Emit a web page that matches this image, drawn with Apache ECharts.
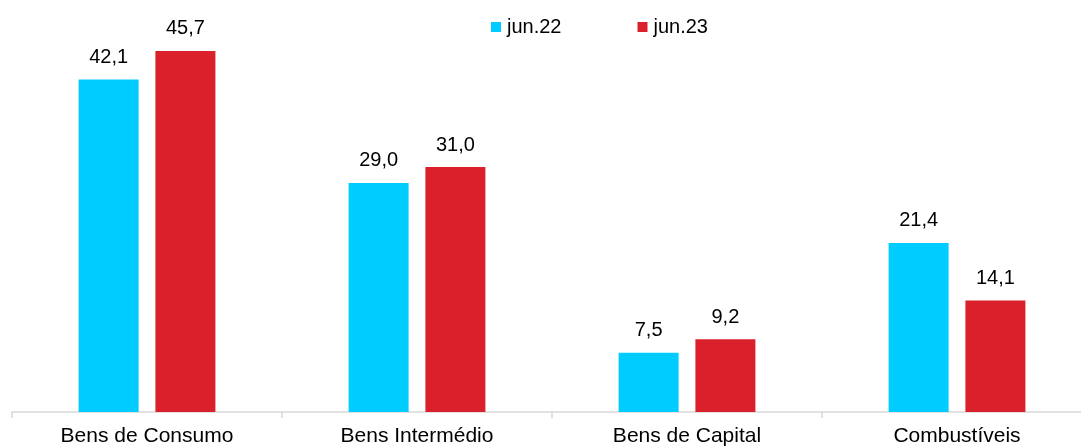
<!DOCTYPE html>
<html>
<head>
<meta charset="utf-8">
<script src="https://cdn.jsdelivr.net/npm/echarts@6/dist/echarts.min.js"></script>
<style>
  html, body { margin: 0; padding: 0; background: #fff; overflow: hidden; }
  #chart { width: 1092px; height: 448px; }
</style>
</head>
<body>
<div id="chart"></div>
<script>
// categories and values
const categories = ["Bens de Consumo", "Bens Intermédio", "Bens de Capital", "Combustíveis"];
const jun22 = [42.1, 29.0, 7.5, 21.4];
const jun23 = [45.7, 31.0, 9.2, 14.1];
const seriesNames = ["jun.22", "jun.23"];

const font = "Arial, 'Liberation Sans', sans-serif";
// the plot runs a little past the right edge of the window, so the chart div is wider than the page
const chart = echarts.init(document.getElementById("chart"), null, { renderer: "canvas" });

const fmt = (p) => p.value.toFixed(1).replace(".", ",");

const labelStyle = {
  show: true,
  position: "top",
  distance: 12,
  color: "#000",
  fontSize: 20,
  fontFamily: font,
  formatter: fmt,
};

chart.setOption({
  animation: false,
  legend: {
    top: 12,
    left: 486,
    itemWidth: 10,
    itemHeight: 10,
    itemGap: 76,
    icon: "rect",
    textStyle: { fontSize: 20, fontFamily: font, color: "#000", padding: [0, 0, 0, 1] },
    data: seriesNames,
  },
  grid: { left: 12, right: 0, top: 17, bottom: 36, containLabel: false },
  xAxis: {
    type: "category",
    data: categories,
    axisLine: { lineStyle: { color: "#D9D9D9", width: 1.5 } },
    axisTick: { show: true, length: 6, lineStyle: { color: "#D9D9D9", width: 1.5 } },
    axisLabel: { margin: 14, fontSize: 21, fontFamily: font, color: "#000" },
  },
  yAxis: {
    type: "value",
    min: 0,
    max: 50,
    show: false,
    splitLine: { show: false },
  },
  series: [
    {
      name: seriesNames[0],
      type: "bar",
      data: jun22,
      barWidth: 60,
      barGap: "28%",
      itemStyle: { color: "#00CCFF" },
      label: labelStyle,
    },
    {
      name: seriesNames[1],
      type: "bar",
      data: jun23,
      barWidth: 60,
      itemStyle: { color: "#DA202A" },
      label: labelStyle,
    },
  ],
});
</script>
</body>
</html>
